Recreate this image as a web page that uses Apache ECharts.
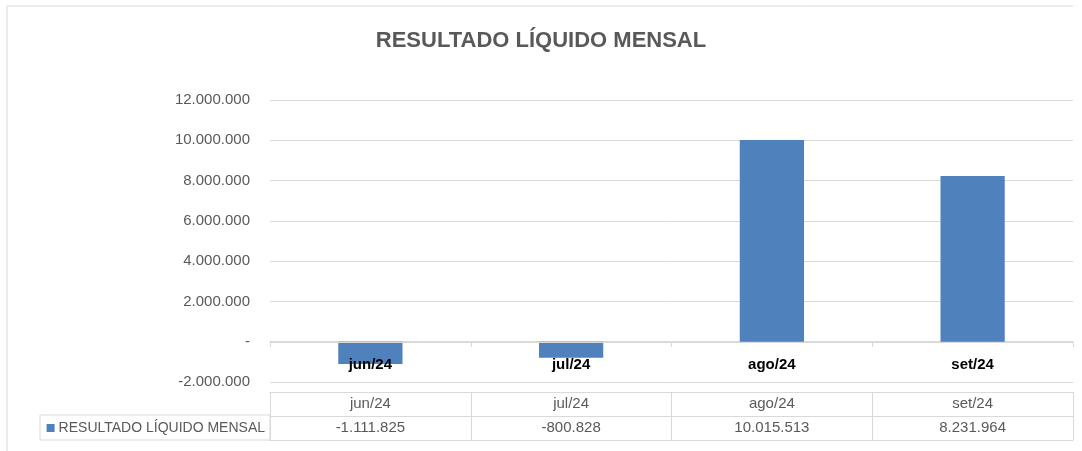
<!DOCTYPE html>
<html>
<head>
<meta charset="utf-8">
<title>Resultado Líquido Mensal</title>
<script src="https://cdn.jsdelivr.net/npm/echarts@6/dist/echarts.min.js"></script>
<style>
  html, body { margin: 0; padding: 0; background: #fff; }
  #main { width: 1082px; height: 451px; }
</style>
</head>
<body>
<div id="main"></div>
<script>
// dados do gráfico
var meses = ["jun/24", "jul/24", "ago/24", "set/24"];
var resultado = [-1111825, -800828, 10015513, 8231964];
var nomeSerie = "RESULTADO LÍQUIDO MENSAL";
var linhasTabela = ["", nomeSerie];

// formata número no padrão brasileiro (1.234.567)
function fmt(v) {
  var s = Math.abs(v).toString().replace(/\B(?=(\d{3})+(?!\d))/g, ".");
  return (v < 0 ? "-" : "") + s;
}

var azul = "#4F81BD";
var cinza = "#595959";
var linha = "#D9D9D9";
var fonte = "'Liberation Sans', Arial, sans-serif";

var chart = echarts.init(document.getElementById("main"));
chart.setOption({
  backgroundColor: "#fff",
  animation: false,
  textStyle: { fontFamily: fonte },
  title: {
    text: "RESULTADO LÍQUIDO MENSAL",
    left: "center",
    top: 25,
    textStyle: { fontSize: 22, fontWeight: "bold", color: cinza, fontFamily: fonte }
  },
  graphic: [
    // borda externa (topo e esquerda)
    { type: "line", shape: { x1: 7, y1: 6, x2: 1073, y2: 6 }, style: { stroke: linha, lineWidth: 1 } },
    { type: "line", shape: { x1: 7, y1: 6, x2: 7, y2: 451 }, style: { stroke: linha, lineWidth: 1 } },
    // célula da legenda na tabela
    { type: "rect", shape: { x: 40, y: 415, width: 230, height: 25 }, style: { fill: "none", stroke: linha, lineWidth: 1 } }
  ],
  grid: [
    { left: 270, right: 9, top: 100, height: 282 },
    { left: 270, right: 9, top: 392, height: 48 }
  ],
  xAxis: [
    {
      // eixo das categorias na linha do zero (-2M até 0 = 40px)
      type: "category",
      gridIndex: 0,
      data: meses,
      z: 5,
      offset: -40,
      axisLine: { onZero: false, lineStyle: { color: linha } },
      axisTick: { show: true, length: 5, lineStyle: { color: linha } },
      axisLabel: { color: "#000", fontWeight: "bold", fontSize: 15, margin: 15, fontFamily: fonte }
    },
    {
      type: "category",
      gridIndex: 1,
      position: "top",
      data: meses,
      axisLine: { show: true, lineStyle: { color: linha } },
      axisTick: { show: false },
      splitLine: { show: true, lineStyle: { color: linha } },
      axisLabel: { inside: true, margin: 4, color: cinza, fontSize: 15, fontFamily: fonte }
    },
    {
      type: "category",
      gridIndex: 1,
      position: "bottom",
      data: resultado.map(fmt),
      axisLine: { show: true, lineStyle: { color: linha } },
      axisTick: { show: false },
      axisLabel: { inside: true, margin: 5, color: cinza, fontSize: 15, fontFamily: fonte }
    }
  ],
  yAxis: [
    {
      type: "value",
      gridIndex: 0,
      min: -2000000,
      max: 12000000,
      interval: 2000000,
      axisLine: { show: false },
      axisTick: { show: false },
      splitLine: { lineStyle: { color: linha } },
      axisLabel: {
        margin: 20,
        color: cinza,
        fontSize: 15,
        fontFamily: fonte,
        formatter: function (v) { return v === 0 ? "-" : fmt(v); }
      }
    },
    {
      type: "category",
      gridIndex: 1,
      inverse: true,
      data: linhasTabela,
      axisLine: { show: false },
      axisTick: { show: false },
      splitLine: { show: true, lineStyle: { color: linha } },
      axisLabel: {
        margin: 5,
        formatter: function (v) { return v ? "{sq|}{t|" + v + "}" : ""; },
        rich: {
          sq: { backgroundColor: azul, width: 8, height: 8 },
          t: { color: cinza, fontSize: 14, fontFamily: fonte, padding: [0, 0, 0, 4] }
        }
      }
    }
  ],
  series: [
    {
      name: nomeSerie,
      type: "bar",
      xAxisIndex: 0,
      yAxisIndex: 0,
      data: resultado,
      barWidth: "32%",
      itemStyle: { color: azul }
    }
  ]
});
</script>
</body>
</html>
